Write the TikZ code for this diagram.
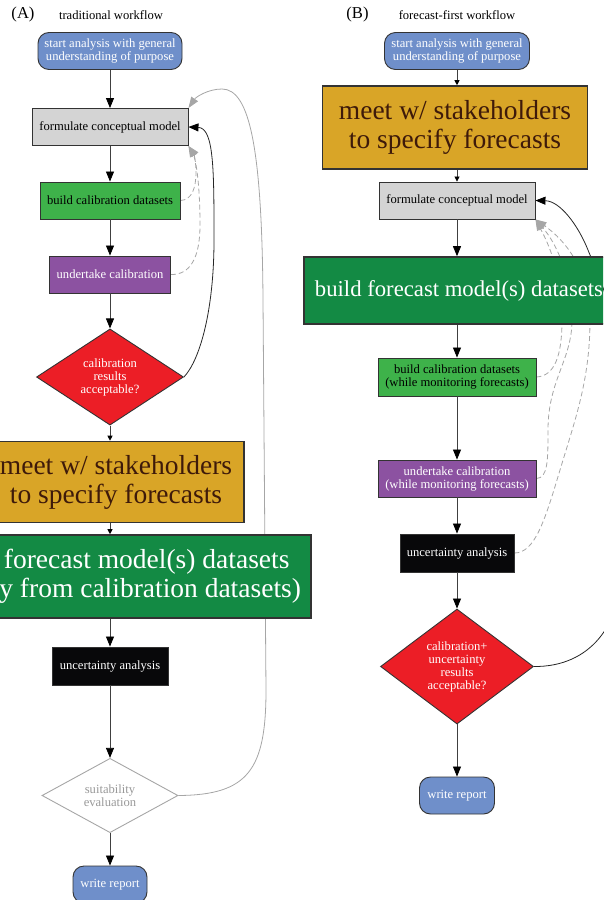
\documentclass[tikz,border=0pt]{standalone}
\usepackage{fontspec}
\setmainfont{Liberation Serif}
\usetikzlibrary{shapes.geometric,arrows.meta}
\pgfdeclarelayer{bg}
\pgfsetlayers{bg,main}
\definecolor{cblue}{HTML}{6F8FCA}
\definecolor{cgray}{HTML}{D4D4D4}
\definecolor{cgreen}{HTML}{3EB24A}
\definecolor{cpurple}{HTML}{8C52A1}
\definecolor{cred}{HTML}{EC1E26}
\definecolor{cgold}{HTML}{D9A527}
\definecolor{cbrown}{HTML}{3E1A0A}
\definecolor{cdgreen}{HTML}{138A44}
\definecolor{cblack}{HTML}{08080A}
\begin{document}
\begin{tikzpicture}[x=1pt,y=-1pt,
  sm/.style={font=\fontsize{12.6}{13}\selectfont},
  lg/.style={font=\fontsize{27.5}{29}\selectfont},
  box/.style={rectangle, draw=black!80, line width=0.9pt, inner sep=0pt, align=center, sm},
  rbox/.style={box, rounded corners=11pt, fill=cblue, text=white},
  dia/.style={diamond, draw=black!80, line width=0.9pt, inner sep=0pt, align=center, sm},
  arr/.style={draw=black!75, line width=0.8pt, -{Triangle[length=10pt,width=8pt,black]}},
  sarr/.style={draw=black!75, line width=0.8pt, -{Triangle[length=5pt,width=5pt,black]}},
  gcurve/.style={draw=black!35, line width=0.8pt, -{Triangle[length=11pt,width=8pt]}},
  dcurve/.style={gcurve, dash pattern=on 5pt off 3pt},
  bcurve/.style={draw=black!85, line width=0.8pt, -{Triangle[length=10pt,width=8pt,black]}}
]
\useasboundingbox (0,0) rectangle (603,900);
\clip (0,0) rectangle (603,900);

% titles
\node[font=\fontsize{16.6}{18}\selectfont] (tA) at (23,14.5) {(A)};
\node[sm] (ttA) at (111,15) {traditional workflow};
\node[font=\fontsize{16.6}{18}\selectfont] (tB) at (357.5,14.5) {(B)};
\node[sm] (ttB) at (457,15) {forecast-first workflow};

% ---------- panel A ----------
\node[rbox, minimum width=144, minimum height=37] (sA) at (110,51) {start analysis with general\\understanding of purpose};
\node[box, fill=cgray, minimum width=156, minimum height=37] (fA) at (110,127) {formulate conceptual model};
\node[box, fill=cgreen, minimum width=140, minimum height=37] (bA) at (110,200.5) {build calibration datasets};
\node[box, fill=cpurple, text=white, minimum width=121, minimum height=37] (uA) at (110,274.5) {undertake calibration};
\node[dia, fill=cred, text=white, minimum width=147, minimum height=90] (dA) at (110,377) {calibration\\results\\acceptable?};
\node[box, lg, fill=cgold, text=cbrown, line width=1.6pt, minimum width=256, minimum height=81] (mA) at (116,482) {meet w/ stakeholders\\to specify forecasts};
\node[box, lg, fill=cdgreen, text=white, line width=1.6pt, minimum width=392, minimum height=83] (gA) at (115,576.5) {build forecast model(s) datasets\\(mostly from calibration datasets)};
\node[box, fill=cblack, text=white, minimum width=116, minimum height=38] (nA) at (110,666) {uncertainty analysis};
\node[dia, fill=white, draw=black!35, text=black!40, minimum width=136, minimum height=65] (eA) at (110,795.5) {suitability\\evaluation};
\node[rbox, minimum width=74, minimum height=37] (wA) at (110,884.5) {write report};

\draw[arr] (sA) -- (fA);
\draw[arr] (fA) -- (bA);
\draw[arr] (bA) -- (uA);
\draw[arr] (uA) -- (dA);
\draw[sarr] (dA.south) -- (dA.south |- mA.north);
\draw[sarr] (dA.south |- mA.south) -- (dA.south |- gA.north);
\draw[arr] (dA.south |- gA.south) -- (nA);
\draw[arr] (nA) -- (eA);
\draw[arr] (eA) -- (wA);

% ---------- panel B ----------
\node[rbox, minimum width=145, minimum height=37] (sB) at (457,51) {start analysis with general\\understanding of purpose};
\node[box, lg, fill=cgold, text=cbrown, line width=1.6pt, minimum width=265, minimum height=83] (mB) at (455,127.5) {meet w/ stakeholders\\to specify forecasts};
\node[box, fill=cgray, minimum width=156, minimum height=37] (fB) at (457,200.5) {formulate conceptual model};
\node[box, fill=cdgreen, text=white, line width=1.6pt, minimum width=310, minimum height=67, font=\fontsize{22.7}{24}\selectfont] (gB) at (459,290.5) {build forecast model(s) datasets};
\node[box, fill=cgreen, minimum width=158, minimum height=38] (bB) at (457,377) {build calibration datasets\\(while monitoring forecasts)};
\node[box, fill=cpurple, text=white, minimum width=158, minimum height=37] (uB) at (457,478.5) {undertake calibration\\(while monitoring forecasts)};
\node[box, fill=cblack, text=white, minimum width=114, minimum height=38] (nB) at (457,553) {uncertainty analysis};
\node[dia, fill=cred, text=white, minimum width=153, minimum height=115] (dB) at (457,666.5) {calibration+\\uncertainty\\results\\acceptable?};
\node[rbox, minimum width=75, minimum height=37] (wB) at (457,795.5) {write report};

\draw[sarr] (sB.south) -- (sB.south |- mB.north);
\draw[sarr] (fB.north |- mB.south) -- (fB.north);
\draw[arr] (fB.south) -- (fB.south |- gB.north);
\draw[arr] (bB.north |- gB.south) -- (bB.north);
\draw[arr] (bB) -- (uB);
\draw[arr] (uB) -- (nB);
\draw[arr] (nB) -- (dB);
\draw[arr] (dB) -- (wB);

% ---------- feedback curves (behind) ----------
\begin{pgfonlayer}{bg}
\draw[gcurve] (eA.east) .. controls (248,795) and (266,770) .. (266,690) -- (263,300) .. controls (262,150) and (250,89) .. (222,89) .. controls (208,89) and (196,97) .. (fA.north east);
\draw[bcurve] (dA.east) .. controls (200,360) and (214,310) .. (214,240) .. controls (214,170) and (214,128) .. (fA.east);
\draw[dcurve] (bA.east) .. controls (192,200) and (196,188) .. (196,172) .. controls (196,160) and (193,152) .. (fA.south east);
\draw[dcurve] (uA.east) .. controls (190,275) and (200,258) .. (200,225) .. controls (200,185) and (196,160) .. (fA.south east);

\draw[bcurve] (dB.east) .. controls (590,667) and (622,625) .. (622,565) -- (622,420) .. controls (622,320) and (600,280) .. (588,250) .. controls (578,225) and (560,201) .. (fB.east);
\draw[dcurve] (bB.east) .. controls (555,376) and (562,355) .. (562,320) .. controls (562,280) and (552,250) .. (fB.south east);
\draw[dcurve] (uB.east) .. controls (548,478) and (548,460) .. (548,430) .. controls (548,380) and (572,360) .. (572,320) .. controls (572,280) and (558,245) .. (fB.south east);
\draw[dcurve] (nB.east) .. controls (535,553) and (545,520) .. (560,470) .. controls (575,420) and (590,380) .. (590,320) .. controls (590,270) and (565,240) .. (fB.south east);
\end{pgfonlayer}
\end{tikzpicture}
\end{document}
